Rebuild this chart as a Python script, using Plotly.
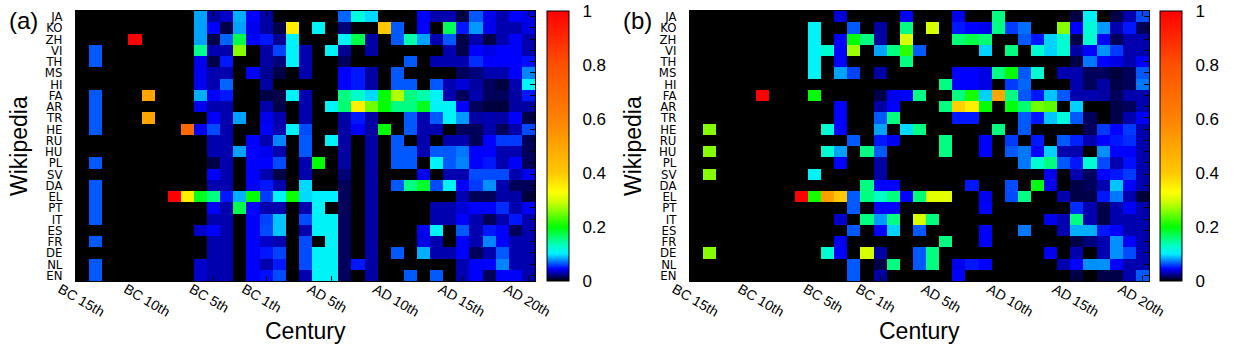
import plotly.graph_objects as go

# languages from top to bottom, centuries from BC 15th to AD 20th
langs = ["JA", "KO", "ZH", "VI", "TH", "MS", "HI", "FA", "AR", "TR", "HE", "RU",
         "HU", "PL", "SV", "DA", "EL", "PT", "IT", "ES", "FR", "DE", "NL", "EN"]
centuries = [f"BC {n}th" for n in range(15, 0, -1)] + [f"AD {n}th" for n in range(1, 21)]
tick_labels = ["BC 15th", "BC 10th", "BC 5th", "BC 1th", "AD 5th", "AD 10th", "AD 15th", "AD 20th"]
cbar_ticks = [0, 0.2, 0.4, 0.6, 0.8, 1]
cbar_text = ["0", "0.2", "0.4", "0.6", "0.8", "1"]

# (a) share of each century, one row per language
share_a = [
    [0, 0, 0, 0, 0, 0, 0, 0, 0, .082, .028, .035, .085, .045, .028, 0, 0, 0, 0, 0, .068, .12, .095, 0, 0, 0, .045, .03, .03, .012, .065, .042, .03, .045, .04],
    [0, 0, 0, 0, 0, 0, 0, 0, 0, .082, .045, .012, .082, .042, .028, .012, .35, 0, .105, 0, .02, 0, 0, .4, .065, 0, .045, 0, .17, .05, .08, .042, .03, .03, .04],
    [0, 0, 0, 0, 1.0, 0, 0, 0, 0, .082, .012, .068, .175, .045, .05, .025, .105, 0, 0, 0, .105, .175, .028, 0, .065, .14, .082, .03, .065, .012, .03, .012, .03, .045, .03],
    [0, .065, 0, 0, 0, 0, 0, 0, 0, .15, .03, .03, .26, 0, .028, .06, .105, .03, 0, .105, .025, 0, .028, 0, 0, 0, 0, 0, .03, .012, .045, .04, .045, .045, .03],
    [0, .065, 0, 0, 0, 0, 0, 0, 0, .042, .012, .05, 0, 0, .028, .02, .105, .03, 0, 0, .015, 0, 0, 0, 0, .065, 0, .03, .03, .03, .055, .045, .045, .045, .048],
    [0, 0, 0, 0, 0, 0, 0, 0, 0, .042, .03, .03, 0, .045, .025, .012, 0, .03, 0, 0, .045, .05, .028, 0, .065, 0, 0, 0, 0, .015, .02, .03, .03, .045, .075],
    [0, 0, 0, 0, 0, 0, 0, 0, 0, .042, .03, .068, 0, 0, .028, 0, 0, 0, 0, 0, .045, .05, .028, 0, .065, .065, 0, .065, .03, .038, .028, .015, .01, .03, .105],
    [0, .065, 0, 0, 0, .5, 0, 0, 0, .085, .045, .05, 0, 0, .012, .012, .105, .03, 0, 0, .155, .13, .095, .2, .28, .155, .14, .105, .03, .015, .03, .015, .015, .028, .05],
    [0, .065, 0, 0, 0, 0, 0, 0, 0, .042, .03, .03, 0, 0, .03, .012, 0, .03, 0, .105, .16, .35, .25, .2, .155, .155, .19, .105, .105, .045, .015, .01, .01, .028, .028],
    [0, .065, 0, 0, 0, .5, 0, 0, 0, 0, .045, .03, .082, 0, .042, .03, 0, .03, 0, 0, .028, .05, .028, 0, 0, .065, .03, .065, .105, .08, .028, .03, .028, .045, .012],
    [0, .065, 0, 0, 0, 0, 0, 0, .7, .042, .062, .03, 0, 0, .045, .03, .105, .062, 0, 0, .028, .045, .028, .2, 0, .065, .03, .03, 0, .015, .015, .03, .015, .03, .062],
    [0, 0, 0, 0, 0, 0, 0, 0, 0, 0, .03, .03, 0, .045, .03, .075, 0, .065, 0, .105, .028, 0, .028, 0, .065, 0, .03, 0, .03, .03, .015, .045, .058, .058, .015],
    [0, 0, 0, 0, 0, 0, 0, 0, 0, 0, .03, .03, .082, .045, .042, .03, 0, .065, 0, 0, .028, 0, .028, 0, .065, .065, .03, .065, .065, .072, .045, .045, .03, .03, .015],
    [0, .065, 0, 0, 0, 0, 0, 0, 0, 0, .012, .03, 0, .045, .045, .062, 0, .03, .2, 0, .028, 0, .028, 0, .065, .065, 0, .105, .065, .075, .045, .05, .03, .045, .015],
    [0, 0, 0, 0, 0, 0, 0, 0, 0, 0, .045, .03, 0, .045, .03, .012, 0, .03, 0, 0, .02, 0, .028, 0, 0, 0, .042, 0, .03, .03, .062, .062, .062, .03, .042],
    [0, .065, 0, 0, 0, 0, 0, 0, 0, 0, .03, .03, 0, .045, .05, .03, 0, .095, 0, 0, .015, 0, .028, 0, .065, .155, .185, .062, .105, .045, .058, .078, .03, .015, .015],
    [0, .065, 0, 0, 0, 0, 0, 1.0, .35, .19, .155, .05, .085, .2, .058, .105, .205, .095, .1, .1, .015, 0, .028, 0, 0, 0, 0, 0, 0, .03, .015, .015, .028, .028, .01],
    [0, .065, 0, 0, 0, 0, 0, 0, 0, 0, .045, .03, .175, .045, .03, .03, 0, .03, .105, 0, .015, 0, .028, 0, 0, 0, 0, .03, .03, .038, .045, .045, .055, .03, .045],
    [0, .065, 0, 0, 0, 0, 0, 0, 0, 0, .03, .03, 0, .045, .06, .09, 0, .062, .105, .105, .015, 0, .028, 0, 0, 0, 0, .03, .03, .045, .03, .015, .03, .05, .03],
    [0, 0, 0, 0, 0, 0, 0, 0, 0, .035, .045, .03, 0, .045, .062, .09, 0, .03, .105, .105, .015, 0, .028, 0, 0, 0, .042, .105, 0, .065, .03, .05, .045, .015, .03],
    [0, .065, 0, 0, 0, 0, 0, 0, 0, 0, .03, .03, 0, .045, .035, .03, 0, .062, 0, .105, .015, 0, .028, 0, 0, 0, .04, .03, 0, .045, .03, .075, .045, .03, .03],
    [0, 0, 0, 0, 0, 0, 0, 0, 0, 0, .03, .03, 0, .045, .05, .06, 0, .062, .105, .105, .015, 0, .028, 0, .065, 0, .085, .03, .03, .045, .015, .03, .065, .03, .03],
    [0, .065, 0, 0, 0, 0, 0, 0, 0, .035, .03, .03, 0, .045, .03, .05, 0, .062, .105, .105, .015, .05, .028, 0, 0, 0, 0, 0, 0, .03, .045, .045, .075, .03, .03],
    [0, .065, 0, 0, 0, 0, 0, 0, 0, .035, .03, .03, 0, .045, .048, .062, 0, .03, .105, .105, .015, 0, .028, 0, 0, .065, 0, .065, 0, .03, .045, .015, .045, .045, .03],
]

# (b)
share_b = [
    [0, 0, 0, 0, 0, 0, 0, 0, 0, 0, 0, .038, 0, 0, 0, 0, .045, 0, 0, 0, .042, 0, 0, .155, 0, 0, 0, 0, 0, .012, .105, 0, .012, .03, .062],
    [0, 0, 0, 0, 0, 0, 0, 0, 0, .105, 0, 0, .065, 0, .028, 0, .155, 0, .3, 0, .05, .045, .042, .155, .058, .07, 0, 0, .26, .045, .125, .08, .03, .05, .015],
    [0, 0, 0, 0, 0, 0, 0, 0, 0, .105, 0, .045, .2, .155, .028, 0, .3, 0, 0, 0, .16, .175, .16, 0, 0, .065, .05, .093, .125, .012, .125, .045, .015, .03, .03],
    [0, 0, 0, 0, 0, 0, 0, 0, 0, .105, .125, .045, .27, 0, .082, .155, .22, .065, 0, 0, 0, 0, .093, 0, .155, 0, .125, .093, .125, .028, .045, .078, .058, .03, .03],
    [0, 0, 0, 0, 0, 0, 0, 0, 0, .105, 0, .045, 0, 0, 0, 0, .155, 0, 0, 0, 0, 0, 0, 0, 0, 0, 0, 0, 0, .012, .072, .045, .04, .03, .045],
    [0, 0, 0, 0, 0, 0, 0, 0, 0, .105, 0, .082, .06, 0, .028, 0, 0, 0, 0, 0, .045, .045, .04, .155, .2, .065, .125, 0, .03, .03, .015, .015, .01, .015, .065],
    [0, 0, 0, 0, 0, 0, 0, 0, 0, 0, 0, 0, 0, 0, 0, 0, 0, 0, 0, .155, .045, .045, .04, 0, .058, .068, 0, 0, 0, .03, .015, .028, .012, .015, .072],
    [0, 0, 0, 0, 0, 1.0, 0, 0, 0, .2, 0, 0, 0, 0, .012, .042, .045, .155, 0, 0, .155, .21, .093, .5, .155, .065, .05, .09, .065, .03, .03, .028, .015, .03, .03],
    [0, 0, 0, 0, 0, 0, 0, 0, 0, 0, 0, .045, 0, 0, .028, .045, 0, 0, 0, .155, .39, .35, .2, 0, .195, .16, .25, .24, 0, .093, 0, 0, .012, .015, .03],
    [0, 0, 0, 0, 0, 0, 0, 0, 0, 0, 0, .045, 0, 0, .065, .155, 0, 0, 0, 0, .05, .05, 0, 0, 0, .065, .05, .09, .12, .065, .015, 0, .012, .03, .045],
    [0, .26, 0, 0, 0, 0, 0, 0, 0, 0, .125, .045, 0, 0, .082, 0, .095, .155, 0, 0, 0, 0, 0, .155, 0, .065, 0, 0, 0, 0, .015, .058, .045, .058, .03],
    [0, 0, 0, 0, 0, 0, 0, 0, 0, 0, 0, 0, .065, 0, .05, .042, 0, 0, 0, .155, 0, 0, .045, 0, .058, 0, .05, 0, .065, .052, .03, .045, .05, .055, .03],
    [0, .26, 0, 0, 0, 0, 0, 0, 0, 0, .125, .082, 0, .155, .065, 0, 0, 0, 0, .155, 0, 0, .045, 0, .065, .072, .045, .093, .03, .03, 0, .078, .045, .045, .03],
    [0, 0, 0, 0, 0, 0, 0, 0, 0, 0, 0, .045, 0, 0, .028, 0, 0, 0, 0, 0, 0, 0, 0, 0, 0, .072, .125, .155, .065, .05, .125, .062, .03, .048, .03],
    [0, .26, 0, 0, 0, 0, 0, 0, 0, .105, 0, 0, 0, 0, .028, 0, 0, 0, 0, 0, 0, 0, 0, 0, 0, 0, 0, .042, 0, .03, .015, .045, .05, .058, .03],
    [0, 0, 0, 0, 0, 0, 0, 0, 0, 0, 0, 0, 0, .155, .045, .045, 0, 0, 0, 0, 0, .05, 0, 0, .062, 0, .195, .042, 0, .012, .015, .03, .09, .045, .03],
    [0, 0, 0, 0, 0, 0, 0, 0, 1.0, .21, .52, .4, .065, .155, .13, .155, .045, .16, .31, .31, 0, 0, .042, 0, .062, .155, 0, 0, .03, .012, .012, .05, .072, .03, .01],
    [0, 0, 0, 0, 0, 0, 0, 0, 0, 0, 0, 0, .065, 0, .045, .045, 0, 0, 0, 0, 0, 0, .045, 0, 0, 0, 0, 0, 0, .055, .03, .012, .03, .045, .03],
    [0, 0, 0, 0, 0, 0, 0, 0, 0, 0, 0, .035, 0, .155, .08, .155, 0, .3, .155, 0, 0, 0, 0, 0, 0, 0, 0, .042, .03, .155, .03, .012, .03, .03, .03],
    [0, 0, 0, 0, 0, 0, 0, 0, 0, 0, 0, 0, .065, 0, .045, .093, 0, .065, 0, 0, 0, 0, .045, 0, 0, .072, 0, 0, .03, .085, .085, .05, .045, .03, .03],
    [0, 0, 0, 0, 0, 0, 0, 0, 0, 0, 0, .042, 0, 0, 0, 0, 0, 0, 0, .155, 0, 0, .045, 0, 0, 0, 0, 0, 0, .012, .02, .03, .078, .045, .03],
    [0, .26, 0, 0, 0, 0, 0, 0, 0, 0, .125, .045, 0, .3, .028, 0, 0, .065, .155, 0, 0, 0, 0, 0, 0, 0, 0, .042, 0, .03, 0, .03, .078, .062, .03],
    [0, 0, 0, 0, 0, 0, 0, 0, 0, 0, 0, 0, .065, 0, .012, .155, 0, .065, .155, 0, .042, .05, .045, 0, 0, 0, 0, 0, .03, .045, .078, .078, .045, .03, .03],
    [0, 0, 0, 0, 0, 0, 0, 0, 0, 0, 0, 0, .065, 0, .028, 0, 0, 0, 0, 0, .045, 0, 0, 0, 0, 0, 0, 0, 0, .012, 0, .012, .012, .03, .065],
]

# gnuplot-like palette: black -> blue -> cyan -> green -> yellow -> orange -> red
colorscale = [
    [0.0, "rgb(0,0,0)"],
    [0.02, "rgb(0,0,120)"],
    [0.045, "rgb(0,0,255)"],
    [0.07, "rgb(0,110,255)"],
    [0.1, "rgb(0,240,255)"],
    [0.13, "rgb(0,255,200)"],
    [0.2, "rgb(0,255,0)"],
    [0.29, "rgb(200,255,0)"],
    [0.33, "rgb(255,255,0)"],
    [0.4, "rgb(255,200,0)"],
    [0.6, "rgb(255,130,0)"],
    [0.8, "rgb(255,80,0)"],
    [1.0, "rgb(255,0,0)"],
]

W, H = 1235, 354
FONT = "Liberation Sans, Arial, sans-serif"
plot_top, plot_bot = 11, 281
panels = [(76, 535, 547), (690, 1149, 1160)]  # plot left, plot right, colorbar left


def colorbar(x0):
    return dict(
        x=x0 / W, xanchor="left", xpad=0,
        y=(H - plot_bot) / H, yanchor="bottom", ypad=0,
        len=plot_bot - plot_top, lenmode="pixels",
        thickness=22, outlinecolor="black", outlinewidth=1,
        tickvals=cbar_ticks, ticktext=cbar_text,
        ticks="outside", ticklen=10, tickcolor="white",
        tickfont=dict(family=FONT, size=17, color="black"),
    )


def label(text, x, y, size, angle=0):
    return dict(text=text, xref="paper", yref="paper", x=x / W, y=(H - y) / H,
                xanchor="center", yanchor="middle", textangle=angle, showarrow=False,
                font=dict(family=FONT, size=size, color="black"))


fig = go.Figure()
for i, (z, (l, r, cb)) in enumerate(zip([share_a, share_b], panels)):
    suffix = "" if i == 0 else str(i + 1)
    fig.add_trace(go.Heatmap(
        z=z, x=centuries, y=langs, colorscale=colorscale, zmin=0, zmax=1,
        xaxis="x" + suffix, yaxis="y" + suffix, colorbar=colorbar(cb),
    ))
    fig.update_layout({
        "xaxis" + suffix: dict(
            domain=[l / W, r / W], anchor="y" + suffix,
            tickmode="array", tickvals=tick_labels, ticktext=tick_labels,
            tickangle=30, ticks="inside", ticklen=5, tickcolor="black",
            mirror="ticks", showline=True, linecolor="black", linewidth=1,
            tickfont=dict(family=FONT, size=14, color="black"),
            ticklabelshift=-22, ticklabelstandoff=-6,
            showgrid=False, zeroline=False, automargin=False,
        ),
        "yaxis" + suffix: dict(
            domain=[(H - plot_bot) / H, (H - plot_top) / H], anchor="x" + suffix,
            tickmode="array", tickvals=langs, ticktext=langs,
            autorange="reversed", ticks="inside", ticklen=5, tickcolor="black",
            mirror="ticks", showline=True, linecolor="black", linewidth=1,
            tickfont=dict(family="Liberation Sans Narrow, DejaVu Sans Condensed, Liberation Sans",
                          size=13, color="black"),
            ticklabelstandoff=10,
            showgrid=False, zeroline=False, automargin=False,
        ),
    })
    fig.add_annotation(label("(" + "ab"[i] + ")", l - 53, 20, 24))
    fig.add_annotation(label("Wikipedia", l - 57, 146, 23, -90))
    fig.add_annotation(label("Century", (l + r) / 2, 331, 23))

fig.update_layout(
    width=W, height=H, margin=dict(l=0, r=0, t=0, b=0),
    paper_bgcolor="white", plot_bgcolor="black", showlegend=False,
)
# the page body has a default 8px margin; drop it so the figure fills the window
fig.write_html("out.html", config={"displayModeBar": False},
               post_script="document.body.style.margin='0px';")
